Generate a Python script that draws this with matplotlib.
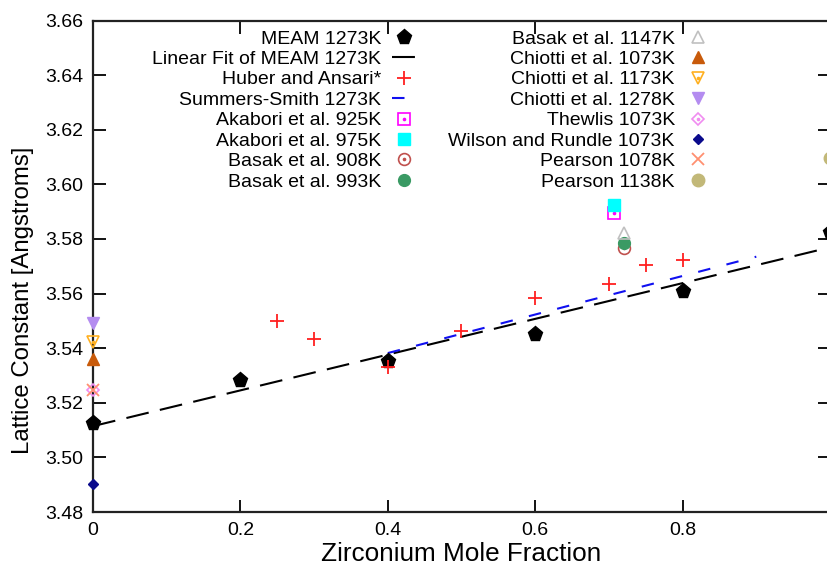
import numpy as np
import matplotlib
matplotlib.use("Agg")
import matplotlib.pyplot as plt
from matplotlib.legend_handler import HandlerTuple

plt.rcParams['font.family'] = ['Liberation Sans', 'DejaVu Sans']

# ---- data ----
meam_x = [0.0, 0.2, 0.4, 0.6, 0.8, 1.0]
meam_y = [3.5126, 3.5283, 3.5353, 3.5452, 3.5611, 3.5826]

huber_x = [0.25, 0.30, 0.40, 0.50, 0.60, 0.70, 0.75, 0.80]
huber_y = [3.5501, 3.5433, 3.5330, 3.5464, 3.5583, 3.5634, 3.5705, 3.5723]

summers_x = [0.4, 0.9]
summers_y = [3.5382, 3.5735]

akabori925_x, akabori925_y = [0.707], [3.5894]
akabori975_x, akabori975_y = [0.707], [3.5925]
basak908_x, basak908_y = [0.72], [3.5766]
basak993_x, basak993_y = [0.72], [3.5786]
basak1147_x, basak1147_y = [0.72], [3.5823]
chiotti1073_x, chiotti1073_y = [0.0], [3.5359]
chiotti1173_x, chiotti1173_y = [0.0], [3.5421]
chiotti1278_x, chiotti1278_y = [0.0], [3.5493]
thewlis_x, thewlis_y = [0.0], [3.5245]
wilson_x, wilson_y = [0.0], [3.4903]
pearson1078_x, pearson1078_y = [0.0], [3.5247]
pearson1138_x, pearson1138_y = [1.0], [3.6095]

xticks = [0, 0.2, 0.4, 0.6, 0.8, 1.0]
xticklabels = ['0', '0.2', '0.4', '0.6', '0.8', '']
yticks = [3.48, 3.50, 3.52, 3.54, 3.56, 3.58, 3.60, 3.62, 3.64, 3.66]
yticklabels = ['%.2f' % v for v in yticks]

# ---- figure ----
fig = plt.figure(figsize=(8.28, 5.65), dpi=100)
W, H = 828, 565
ax = fig.add_axes([93 / W, (H - 512) / H, 737 / W, 491.5 / H])

kw = dict(linestyle='none', clip_on=False, zorder=4)


def open_dot(x, y, marker, color, ms):
    h1, = ax.plot(x, y, marker=marker, mfc='none', mec=color, ms=ms, mew=1.2, **kw)
    h2, = ax.plot(x, y, marker='o', color=color, ms=1.6, **kw)
    return (h1, h2)


fit = np.polyfit(meam_x, meam_y, 1)
fx = np.array([0.0, 1.0])

h_meam, = ax.plot(meam_x, meam_y, marker='p', color='black', ms=11, **kw)
h_fit, = ax.plot(fx, np.polyval(fit, fx), color='black', lw=1.5, dashes=(11, 5.5), zorder=3)
h_hub, = ax.plot(huber_x, huber_y, marker='+', color='#FF2020', ms=9.5, mew=1.3, **kw)
h_sum, = ax.plot(summers_x, summers_y, color='#1010F0', lw=1.5, dashes=(6, 8), zorder=3)
h_ak1 = open_dot(akabori925_x, akabori925_y, 's', '#FF00FF', 8.5)
h_ak2, = ax.plot(akabori975_x, akabori975_y, marker='s', color='#00FFFF', ms=8.5, **kw)
h_b1 = open_dot(basak908_x, basak908_y, 'o', '#C0504D', 8.5)
h_b2, = ax.plot(basak993_x, basak993_y, marker='o', color='#3A9A64', ms=8.5, **kw)
h_b3, = ax.plot(basak1147_x, basak1147_y, marker='^', mfc='none', mec='#C0C0C0', ms=8.5,
                mew=1.2, **kw)
h_c1, = ax.plot(chiotti1073_x, chiotti1073_y, marker='^', color='#C85A0A', ms=8, **kw)
h_c2 = open_dot(chiotti1173_x, chiotti1173_y, 'v', '#FFB020', 8.5)
h_c3, = ax.plot(chiotti1278_x, chiotti1278_y, marker='v', color='#B48CF0', ms=8, **kw)
h_th = open_dot(thewlis_x, thewlis_y, 'D', '#F08CF0', 6)
h_wi, = ax.plot(wilson_x, wilson_y, marker='D', color='#0A0A8C', ms=5.5, **kw)
h_p1, = ax.plot(pearson1078_x, pearson1078_y, marker='x', color='#FF9070', ms=8.5,
                mew=1.3, **kw)
h_p2, = ax.plot(pearson1138_x, pearson1138_y, marker='o', color='#C2B878', ms=9, **kw)

ax.set_xlim(0, 1.0)
ax.set_ylim(3.48, 3.66)
ax.set_xticks(xticks)
ax.set_xticklabels(xticklabels)
ax.set_yticks(yticks)
ax.set_yticklabels(yticklabels)
ax.tick_params(direction='in', length=9, width=1.3, top=True, right=True,
               labelsize=14, colors='black')
ax.tick_params(axis='y', pad=7)
ax.tick_params(axis='x', pad=7)
for s in ax.spines.values():
    s.set_linewidth(1.6)
    s.set_color('#222222')

ax.set_xlabel('Zirconium Mole Fraction', fontsize=18.8)
ax.set_ylabel('Lattice Constant [Angstroms]', fontsize=17.3)
ax.xaxis.set_label_coords(0.5, -0.062)
ax.yaxis.label.set_verticalalignment('center')
ax.yaxis.set_label_coords(-0.0945, 0.43)

handles = [h_meam, h_fit, h_hub, h_sum, h_ak1, h_ak2, h_b1, h_b2,
           h_b3, h_c1, h_c2, h_c3, h_th, h_wi, h_p1, h_p2]
labels = ['MEAM 1273K', 'Linear Fit of MEAM 1273K', 'Huber and Ansari*',
          'Summers-Smith 1273K', 'Akabori et al. 925K', 'Akabori et al. 975K',
          'Basak et al. 908K', 'Basak et al. 993K', 'Basak et al. 1147K',
          'Chiotti et al. 1073K', 'Chiotti et al. 1173K', 'Chiotti et al. 1278K',
          'Thewlis 1073K', 'Wilson and Rundle 1073K', 'Pearson 1078K', 'Pearson 1138K']
leg = ax.legend(handles=handles, labels=labels, ncol=2,
                markerfirst=False, frameon=False, fontsize=14, handlelength=1.24,
                handletextpad=0.57, columnspacing=1.65, labelspacing=0.145,
                borderpad=0, borderaxespad=0, loc='upper right',
                bbox_to_anchor=(710 / W, 1 - 30 / H), bbox_transform=fig.transFigure,
                numpoints=1, handler_map={tuple: HandlerTuple(ndivide=1, pad=0)})

fig.savefig('out.png', dpi=100)
